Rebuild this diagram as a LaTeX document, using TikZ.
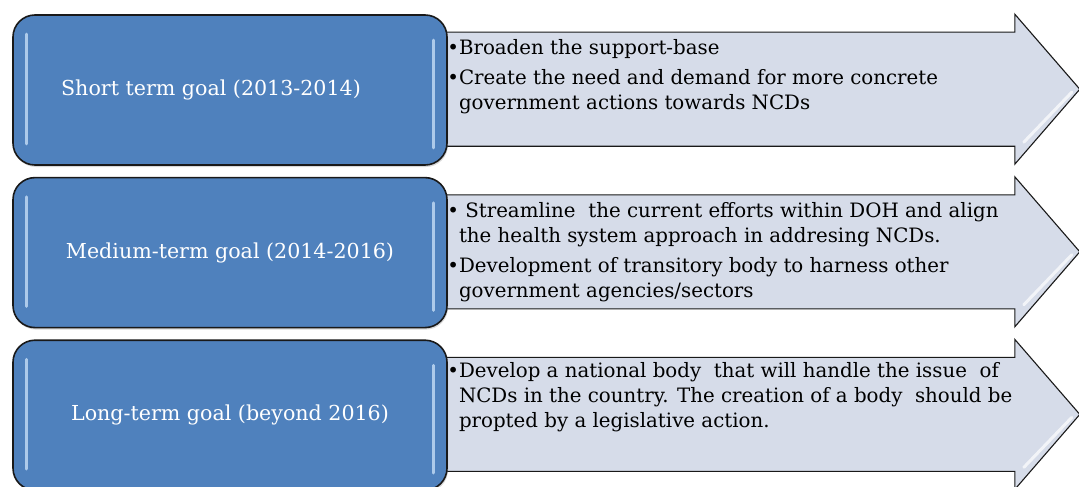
\documentclass[tikz,border=0pt]{standalone}
\usepackage{fontspec}
\setmainfont{DejaVu Serif}
\usepackage{tikz}
\usetikzlibrary{positioning, calc, backgrounds, shadows}
\definecolor{goalblue}{RGB}{79,129,189}
\definecolor{glossblue}{RGB}{190,215,242}
\definecolor{arrowfill}{RGB}{214,220,233}
\definecolor{edgegray}{RGB}{25,25,25}
\newcommand{\itembul}{\llap{\textbullet}}

\begin{document}
\begin{tikzpicture}[x=1pt, y=-1pt, node distance=11pt,
  goalbox/.style={draw=edgegray, line width=1.6pt, fill=goalblue, rounded corners=22pt,
    minimum width=434pt, minimum height=150pt, text=white, font=\fontsize{20.6}{26}\selectfont,
    drop shadow={shadow xshift=1pt, shadow yshift=-2pt, opacity=0.3}},
  goalarrow/.style={draw=edgegray, line width=1.1pt, fill=arrowfill},
  gloss/.style={line width=3pt, line cap=round, draw=glossblue, opacity=0.85},
  steptext/.style={anchor=north west, inner sep=0pt, align=left, font=\fontsize{19.8}{25}\selectfont}]
\useasboundingbox (0,0) rectangle (1079,487);

% goal boxes
\node[goalbox] (g1) at (230,90) {Short term goal (2013-2014)\hspace*{38pt}};
\node[goalbox, below=of g1] (g2) {Medium-term goal (2014-2016)};
\node[goalbox, below=of g2] (g3) {Long-term goal (beyond 2016)};

% glossy edges
\draw[gloss] ($(g1.north west)+(14,20)$) -- ($(g1.south west)+(14,-22)$);
\draw[gloss] ($(g1.north east)+(-14,26)$) -- ($(g1.south east)+(-14,-18)$);
\draw[gloss] ($(g2.north west)+(14,20)$) -- ($(g2.south west)+(14,-22)$);
\draw[gloss] ($(g2.north east)+(-14,26)$) -- ($(g2.south east)+(-14,-18)$);
\draw[gloss] ($(g3.north west)+(14,20)$) -- ($(g3.south west)+(14,-22)$);
\draw[gloss] ($(g3.north east)+(-14,26)$) -- ($(g3.south east)+(-14,-18)$);

% arrows behind the boxes
\begin{scope}[on background layer]
\draw[goalarrow] ($(g1.north east)+(-5,18)$) -- ++(572,0) -- ++(0,-18) -- ++(65,75) -- ++(-65,75) -- ++(0,-18) -- ++(-572,0) -- cycle;
\draw[goalarrow] ($(g2.north east)+(-5,18)$) -- ++(572,0) -- ++(0,-18) -- ++(65,75) -- ++(-65,75) -- ++(0,-18) -- ++(-572,0) -- cycle;
\draw[goalarrow] ($(g3.north east)+(-5,18)$) -- ++(572,0) -- ++(0,-18) -- ++(65,75) -- ++(-65,75) -- ++(0,-18) -- ++(-572,0) -- cycle;
\end{scope}
\draw[gloss, draw=white, opacity=0.7] ($(g1.north east)+(576,128)$) -- ++(48,-50);
\draw[gloss, draw=white, opacity=0.7] ($(g2.north east)+(576,128)$) -- ++(48,-50);
\draw[gloss, draw=white, opacity=0.7] ($(g3.north east)+(576,128)$) -- ++(48,-50);

% bullet texts
\node[steptext] (t1) at ($(g1.north east)+(11,25)$) {\itembul Broaden the support-base\\[5pt]
  \itembul Create the need and demand for more concrete\\
  government actions towards NCDs};
\node[steptext] (t2) at ($(g2.north east)+(11,25)$) {\itembul\ Streamline\ \ the current efforts within DOH and align\\
  the health system approach in addresing NCDs.\\[5pt]
  \itembul Development of transitory body to harness other\\
  government agencies/sectors};
\node[steptext] (t3) at ($(g3.north east)+(11,23)$) {\itembul Develop a national body\ \ that will handle the issue\ \ of\\
  NCDs in the country. The creation of a body\ \ should be\\
  propted by a legislative action.};
\end{tikzpicture}
\end{document}
